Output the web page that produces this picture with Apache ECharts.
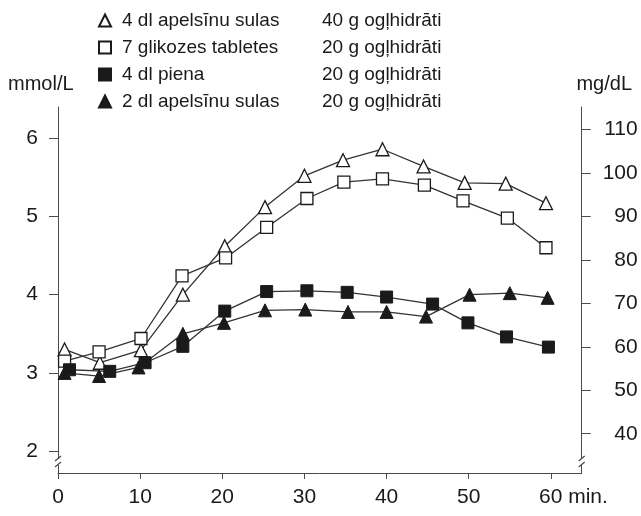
<!DOCTYPE html>
<html>
<head>
<meta charset="utf-8">
<script src="https://cdn.jsdelivr.net/npm/echarts@6/dist/echarts.min.js"></script>
<style>
  html, body { margin: 0; padding: 0; background: #fff; }
  #chart { width: 641px; height: 516px; }
</style>
</head>
<body>
<div id="chart"></div>
<script>
// Blood glucose (mmol/L) over 60 minutes after four carbohydrate sources
const seriesNames = ['4 dl apelsīnu sulas', '7 glikozes tabletes', '4 dl piena', '2 dl apelsīnu sulas'];
const carbLabels = ['40 g ogļhidrāti', '20 g ogļhidrāti', '20 g ogļhidrāti', '20 g ogļhidrāti'];

const juice400Min = [0.8, 5.1, 10.1, 15.2, 20.3, 25.2, 30.0, 34.7, 39.5, 44.5, 49.5, 54.5, 59.4];
const juice400 = [3.30, 3.13, 3.29, 4.00, 4.62, 5.12, 5.52, 5.72, 5.86, 5.64, 5.43, 5.42, 5.17];

const tabletsMin = [0.8, 5.0, 10.1, 15.1, 20.4, 25.4, 30.3, 34.8, 39.5, 44.6, 49.3, 54.7, 59.4];
const tablets = [3.15, 3.27, 3.44, 4.24, 4.47, 4.86, 5.23, 5.44, 5.48, 5.40, 5.20, 4.98, 4.60];

const milkMin = [1.4, 6.3, 10.6, 15.2, 20.3, 25.4, 30.3, 35.2, 40.0, 45.6, 49.9, 54.6, 59.7];
const milk = [3.04, 3.02, 3.13, 3.34, 3.79, 4.04, 4.05, 4.03, 3.97, 3.88, 3.64, 3.46, 3.33];

const juice200Min = [0.8, 5.0, 9.8, 15.2, 20.2, 25.2, 30.1, 35.3, 40.0, 44.8, 50.1, 55.0, 59.6];
const juice200 = [3.00, 2.96, 3.07, 3.50, 3.64, 3.80, 3.81, 3.78, 3.78, 3.72, 4.00, 4.02, 3.96];

const minuteTicks = [0, 10, 20, 30, 40, 50, 60];
const mmolTicks = [2, 3, 4, 5, 6];
const mgdlTicks = [40, 50, 60, 70, 80, 90, 100, 110];

const MMOL_TO_MGDL = 18;
const yMin = 1.72, yMax = 6.40;

const FONT = '"Liberation Sans", Arial, Helvetica, sans-serif';
const INK = '#1a1a1a';
const AXIS = '#4a4a4a';

const pairs = (xs, ys) => xs.map((x, i) => [x, ys[i]]);

function lineSeries(name, xs, ys, symbol, filled) {
  return {
    name: name,
    type: 'line',
    data: pairs(xs, ys),
    symbol: symbol,
    symbolSize: symbol === 'rect' ? 12 : 13,
    showAllSymbol: true,
    lineStyle: { color: '#333333', width: 1.3 },
    itemStyle: filled
      ? { color: INK, borderColor: INK, borderWidth: 1 }
      : { color: '#ffffff', borderColor: INK, borderWidth: 1.3 },
    emphasis: { disabled: true },
    animation: false
  };
}

const chart = echarts.init(document.getElementById('chart'), null, { renderer: 'canvas' });

const option = {
  backgroundColor: '#ffffff',
  animation: false,
  textStyle: { fontFamily: FONT, color: INK },
  grid: { left: 58, right: 59.3, top: 107, bottom: 43 },
  legend: {
    orient: 'vertical',
    left: 93,
    top: 6,
    itemWidth: 12,
    itemHeight: 12,
    itemGap: 8,
    selectedMode: false,
    data: [
      { name: seriesNames[0], icon: 'triangle' },
      { name: seriesNames[1], icon: 'rect' },
      { name: seriesNames[2], icon: 'rect' },
      { name: seriesNames[3], icon: 'triangle' }
    ],
    formatter: function (name) {
      const i = seriesNames.indexOf(name);
      return '{a|' + name + '}{b|' + carbLabels[i] + '}';
    },
    textStyle: {
      fontFamily: FONT,
      fontSize: 19,
      color: INK,
      rich: {
        a: { fontFamily: FONT, fontSize: 19, color: INK, width: 200, padding: [0, 0, 0, 6] },
        b: { fontFamily: FONT, fontSize: 19, color: INK }
      }
    }
  },
  xAxis: {
    type: 'value',
    min: 0,
    max: 63.75,
    splitLine: { show: false },
    axisLine: { lineStyle: { color: AXIS, width: 1 } },
    axisTick: { customValues: minuteTicks, length: 6, lineStyle: { color: AXIS } },
    axisLabel: {
      customValues: minuteTicks,
      margin: 14,
      fontSize: 21,
      fontFamily: FONT,
      color: INK,
      formatter: function (v) {
        return v === 60 ? '{s|}60 min.' : String(v);
      },
      rich: { s: { width: 45 } }
    }
  },
  yAxis: [
    {
      type: 'value',
      position: 'left',
      min: yMin,
      max: yMax,
      splitLine: { show: false },
      axisLine: { show: true, lineStyle: { color: AXIS, width: 1 } },
      axisTick: { show: true, customValues: mmolTicks, length: 9, lineStyle: { color: AXIS } },
      axisLabel: {
        customValues: mmolTicks,
        margin: 20,
        fontSize: 21,
        fontFamily: FONT,
        color: INK
      }
    },
    {
      type: 'value',
      position: 'right',
      min: yMin * MMOL_TO_MGDL,
      max: yMax * MMOL_TO_MGDL,
      splitLine: { show: false },
      axisLine: { show: true, lineStyle: { color: AXIS, width: 1 } },
      axisTick: { show: true, customValues: mgdlTicks, length: 9, lineStyle: { color: AXIS } },
      axisLabel: {
        customValues: mgdlTicks,
        margin: 56,
        align: 'right',
        fontSize: 21,
        fontFamily: FONT,
        color: INK
      }
    }
  ],
  series: [
    lineSeries(seriesNames[0], juice400Min, juice400, 'triangle', false),
    lineSeries(seriesNames[1], tabletsMin, tablets, 'rect', false),
    lineSeries(seriesNames[2], milkMin, milk, 'rect', true),
    lineSeries(seriesNames[3], juice200Min, juice200, 'triangle', true)
  ],
  graphic: [
    {
      type: 'text',
      left: 8,
      top: 74,
      style: { text: 'mmol/L', fontFamily: FONT, fontSize: 20, fill: INK }
    },
    {
      type: 'text',
      right: 9,
      top: 74,
      style: { text: 'mg/dL', fontFamily: FONT, fontSize: 20, fill: INK }
    }
  ]
};

chart.setOption(option);

// Axis-break marks on both vertical axes, placed between the lowest tick and the time axis
function breakMarks() {
  const yBreak = chart.convertToPixel({ yAxisIndex: 0 }, 1.86);
  const xLeft = chart.convertToPixel({ xAxisIndex: 0 }, 0);
  const xRight = chart.convertToPixel({ xAxisIndex: 0 }, 63.75);
  const els = [];
  [xLeft, xRight].forEach(function (x) {
    els.push({
      type: 'rect',
      shape: { x: x - 4, y: yBreak - 3, width: 8, height: 6 },
      style: { fill: '#ffffff' },
      z: 100
    });
    els.push({
      type: 'line',
      shape: { x1: x - 3, y1: yBreak - 1, x2: x + 3, y2: yBreak - 6 },
      style: { stroke: AXIS, lineWidth: 1.2 },
      z: 101
    });
    els.push({
      type: 'line',
      shape: { x1: x - 3, y1: yBreak + 5, x2: x + 3, y2: yBreak },
      style: { stroke: AXIS, lineWidth: 1.2 },
      z: 101
    });
  });
  chart.setOption({ graphic: option.graphic.concat(els) });
}
breakMarks();
</script>
</body>
</html>
